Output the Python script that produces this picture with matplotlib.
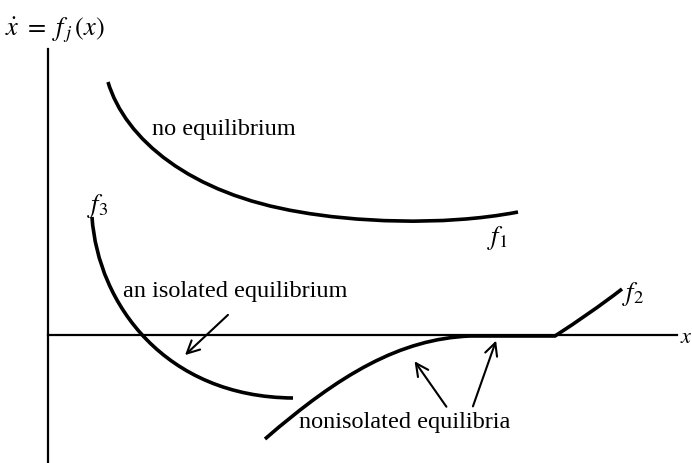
import matplotlib
matplotlib.use("Agg")
import matplotlib.pyplot as plt
from matplotlib.path import Path
from matplotlib.patches import PathPatch

plt.rcParams["font.family"] = "Liberation Serif"
plt.rcParams["mathtext.fontset"] = "stix"

# Bezier control points for each curve (x right of the vertical axis, y above the horizontal axis)
# f1: two cubic pieces
f1_x = [60, 77, 142, 252, 302, 392, 470]
f1_y = [253, 196, 141, 123, 114, 108, 123]
# f3: one cubic piece
f3_x = [44, 50, 117, 245]
f3_y = [118, 31, -62, -63]
# f2: cubic, flat run along the axis, cubic
f2_x = [217, 292, 352, 422, 507, 530, 552, 574]
f2_y = [-104, -39, -4, -1, -1, 14, 29, 46]

f2_codes = [Path.MOVETO, Path.CURVE4, Path.CURVE4, Path.CURVE4,
            Path.LINETO, Path.CURVE4, Path.CURVE4, Path.CURVE4]
f1_codes = [Path.MOVETO] + [Path.CURVE4] * 6
f3_codes = [Path.MOVETO] + [Path.CURVE4] * 3


fig = plt.figure(figsize=(6.92, 4.64), dpi=100)
ax = fig.add_axes([0, 0, 1, 1])
ax.set_xlim(-48, 644)
ax.set_ylim(-128, 336)
ax.axis("off")

# axes
ax.plot([0, 0], [-128, 286], color="black", lw=1.6)
ax.plot([0, 629], [0, 0], color="black", lw=1.6)
ax.text(632, -3, "$x$", fontsize=16, ha="left", va="center")
ax.text(-43, 306, r"$\dot{x}\ =\ f_{\,j}\,(x)$", fontsize=19, ha="left", va="center")

# curves
for xs, ys, codes in [(f1_x, f1_y, f1_codes), (f3_x, f3_y, f3_codes), (f2_x, f2_y, f2_codes)]:
    path = Path(list(zip(xs, ys)), codes)
    ax.add_patch(PathPatch(path, facecolor="none", edgecolor="black", lw=2.6, capstyle="butt"))

ax.text(439, 98, "$f_1$", fontsize=19, ha="left", va="center")
ax.text(574, 42, "$f_2$", fontsize=19, ha="left", va="center")
ax.text(39, 130, "$f_3$", fontsize=19, ha="left", va="center")

ax.text(104, 206, "no equilibrium", fontsize=17.5, ha="left", va="center")
ax.text(75, 44, "an isolated equilibrium", fontsize=17.5, ha="left", va="center")
ax.text(251, -87, "nonisolated equilibria", fontsize=17.5, ha="left", va="center")

arrow = dict(arrowstyle="->,head_length=0.9,head_width=0.45", color="black", lw=1.5)
ax.annotate("", xy=(135, -22), xytext=(182, 22), arrowprops=arrow)
ax.annotate("", xy=(365, -24), xytext=(400, -74), arrowprops=arrow)
ax.annotate("", xy=(449, -3), xytext=(424, -74), arrowprops=arrow)

fig.savefig("out.png", dpi=100)
